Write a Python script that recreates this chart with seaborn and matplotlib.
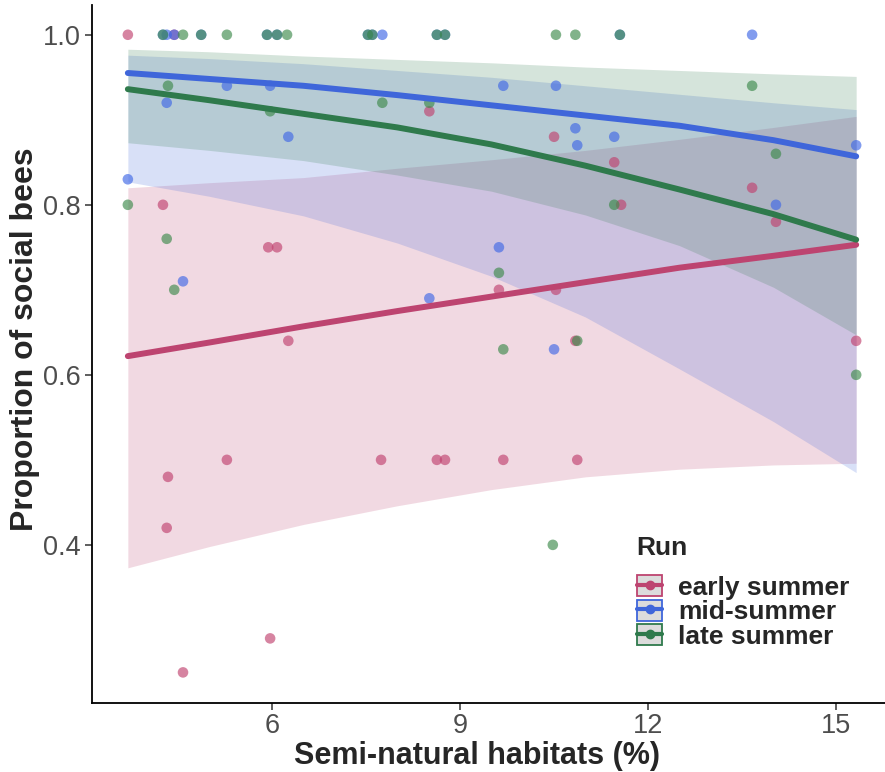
import pandas as pd
import matplotlib
matplotlib.use("Agg")
import matplotlib.pyplot as plt
import seaborn as sns
from matplotlib.patches import Patch
from matplotlib.lines import Line2D
from matplotlib.legend_handler import HandlerTuple

early_x = [3.70, 4.26, 4.32, 4.34, 4.44, 4.58, 5.28, 5.94, 6.08, 5.97, 6.26, 7.74, 8.51,
           8.63, 8.76, 9.62, 9.69, 10.50, 10.53, 10.84, 10.87, 11.46, 11.57, 13.66, 14.04, 15.32]
early_y = [1.00, 0.80, 0.42, 0.48, 1.00, 0.25, 0.50, 0.75, 0.75, 0.29, 0.64, 0.50, 0.91,
           0.50, 0.50, 0.70, 0.50, 0.88, 0.70, 0.64, 0.50, 0.85, 0.80, 0.82, 0.78, 0.64]

mid_x = [3.70, 4.26, 4.32, 4.44, 4.32, 4.58, 4.87, 5.28, 5.97, 5.92, 6.08, 6.26, 7.53, 7.60, 7.76,
         8.51, 8.63, 8.76, 9.62, 9.69, 10.50, 10.53, 10.84, 10.87, 11.46, 11.55, 13.66, 14.04, 15.32]
mid_y = [0.83, 1.00, 1.00, 1.00, 0.92, 0.71, 1.00, 0.94, 0.94, 1.00, 1.00, 0.88, 1.00, 1.00, 1.00,
         0.69, 1.00, 1.00, 0.75, 0.94, 0.63, 0.94, 0.89, 0.87, 0.88, 1.00, 1.00, 0.80, 0.87]

late_x = [3.70, 4.26, 4.34, 4.32, 4.44, 4.58, 4.87, 5.28, 5.92, 5.97, 6.08, 6.24, 7.53, 7.60, 7.76,
          8.51, 8.63, 8.76, 9.62, 9.69, 10.48, 10.53, 10.84, 10.87, 11.46, 11.55, 13.66, 14.04, 15.32]
late_y = [0.80, 1.00, 0.94, 0.76, 0.70, 1.00, 1.00, 1.00, 1.00, 0.91, 1.00, 1.00, 1.00, 1.00, 0.92,
          0.92, 1.00, 1.00, 0.72, 0.63, 0.40, 1.00, 1.00, 0.64, 0.80, 1.00, 0.94, 0.86, 0.60]

# fitted curves with 95% CI, read at these habitat values
fit_x = [3.7, 5.0, 6.5, 8.0, 9.5, 11.0, 12.5, 14.0, 15.32]
early_fit = [0.622, 0.638, 0.657, 0.675, 0.692, 0.709, 0.726, 0.740, 0.753]
early_lo = [0.373, 0.398, 0.424, 0.446, 0.465, 0.480, 0.489, 0.494, 0.496]
early_hi = [0.820, 0.826, 0.832, 0.843, 0.853, 0.864, 0.877, 0.891, 0.904]
mid_fit = [0.955, 0.948, 0.940, 0.929, 0.917, 0.905, 0.893, 0.876, 0.857]
mid_lo = [0.827, 0.810, 0.787, 0.755, 0.716, 0.668, 0.607, 0.545, 0.485]
mid_hi = [0.976, 0.972, 0.966, 0.958, 0.950, 0.940, 0.930, 0.920, 0.912]
late_fit = [0.936, 0.923, 0.907, 0.891, 0.871, 0.846, 0.818, 0.789, 0.759]
late_lo = [0.873, 0.864, 0.852, 0.835, 0.816, 0.788, 0.752, 0.703, 0.647]
late_hi = [0.983, 0.980, 0.975, 0.971, 0.967, 0.962, 0.958, 0.954, 0.951]

runs = ["early summer", "mid-summer", "late summer"]
line_cols = {"early summer": "#BD4470", "mid-summer": "#3F66DA", "late summer": "#2F7A4C"}
point_cols = {"early summer": "#C0426F", "mid-summer": "#4068E6", "late summer": "#3E8A4C"}

pts = pd.concat([
    pd.DataFrame({"habitat": early_x, "prop": early_y, "Run": runs[0]}),
    pd.DataFrame({"habitat": mid_x, "prop": mid_y, "Run": runs[1]}),
    pd.DataFrame({"habitat": late_x, "prop": late_y, "Run": runs[2]}),
])
fits = pd.concat([
    pd.DataFrame({"habitat": fit_x, "fit": early_fit, "lo": early_lo, "hi": early_hi, "Run": runs[0]}),
    pd.DataFrame({"habitat": fit_x, "fit": mid_fit, "lo": mid_lo, "hi": mid_hi, "Run": runs[1]}),
    pd.DataFrame({"habitat": fit_x, "fit": late_fit, "lo": late_lo, "hi": late_hi, "Run": runs[2]}),
])

sns.set_style("white")
plt.rcParams["font.family"] = ["Liberation Sans", "DejaVu Sans"]

fig = plt.figure(figsize=(8.85, 7.72), dpi=100)
ax = fig.add_axes([92 / 885, 69 / 772, 793 / 885, 698 / 772])

# ribbons
for run in runs:
    d = fits[fits["Run"] == run]
    ax.fill_between(d["habitat"], d["lo"], d["hi"], color=line_cols[run], alpha=0.2, lw=0)

sns.lineplot(data=fits, x="habitat", y="fit", hue="Run", palette=line_cols,
             hue_order=runs, lw=4.3, legend=False, ax=ax)
sns.scatterplot(data=pts, x="habitat", y="prop", hue="Run", palette=point_cols,
                hue_order=runs, s=58, alpha=0.65, edgecolor="none", legend=False, ax=ax)

ax.set_xlim(3.128, 15.78)
ax.set_ylim(0.214, 1.035)
ax.set_xticks([6, 9, 12, 15])
ax.set_yticks([0.4, 0.6, 0.8, 1.0])
ax.set_yticklabels(["0.4", "0.6", "0.8", "1.0"])
ax.tick_params(axis="both", labelsize=19.5, labelcolor="#4D4D4D", color="#333333",
               length=5, width=1.1, direction="out", left=True, bottom=True, pad=3)
ax.tick_params(axis="x", pad=2)
sns.despine(ax=ax)
for side in ["left", "bottom"]:
    ax.spines[side].set_color("black")
    ax.spines[side].set_linewidth(1.3)

ax.set_xlabel("Semi-natural habitats (%)", fontsize=22, fontweight="bold")
ax.set_ylabel("Proportion of social bees", fontsize=23, fontweight="bold")
ax.xaxis.set_label_coords(0.4855, -0.054)
ax.yaxis.set_label_coords(-0.066, 0.521)

handles = [(Patch(facecolor="#DCDCDC", edgecolor=line_cols[r], lw=1.3),
            Line2D([], [], color=line_cols[r], lw=3, marker="o", markersize=6))
           for r in runs]
leg = ax.legend(handles, runs, loc="upper left",
                bbox_to_anchor=(637 / 885, 1 - 575 / 772), bbox_transform=fig.transFigure,
                handler_map={tuple: HandlerTuple(ndivide=1, pad=0)},
                frameon=False, fontsize=19, borderpad=0, borderaxespad=0,
                handlelength=0.95, handleheight=0.85, handletextpad=0.6, labelspacing=0.0)
for t in leg.get_texts():
    t.set_fontweight("bold")
fig.text(636 / 885, 1 - 548 / 772, "Run", fontsize=19, fontweight="bold",
         ha="left", va="center")

fig.savefig("out.png", dpi=100)
